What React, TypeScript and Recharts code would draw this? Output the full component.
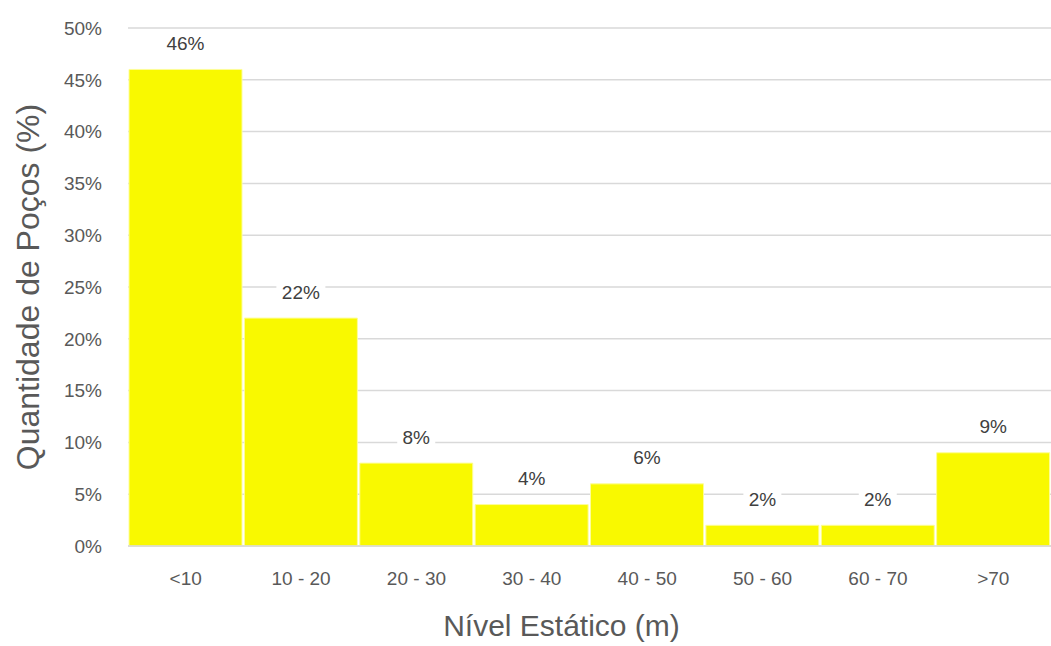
import React from "react";
import { BarChart, Bar, XAxis, YAxis, CartesianGrid, LabelList, Label } from "recharts";

const categories = ["<10", "10 - 20", "20 - 30", "30 - 40", "40 - 50", "50 - 60", "60 - 70", ">70"];
const percents = [46, 22, 8, 4, 6, 2, 2, 9];
const yTicks = [0, 5, 10, 15, 20, 25, 30, 35, 40, 45, 50];

const FONT = "'Liberation Sans', Arial, sans-serif";
const TEXT = "#595959";

const chartData = categories.map((c, i) => ({ name: c, value: percents[i] }));

function ValueLabel(props: any) {
  const { x, y, width, value } = props;
  const cx = x + width / 2;
  const cy = y - 26;
  const text = `${value}%`;
  const w = text.length * 11 + 16;
  return (
    <g>
      <rect x={cx - w / 2} y={cy - 12} width={w} height={24} fill="#ffffff" />
      <text
        x={cx}
        y={cy}
        textAnchor="middle"
        dominantBaseline="central"
        fontSize={19}
        fontFamily={FONT}
        fill="#404040"
      >
        {text}
      </text>
    </g>
  );
}

export default function App() {
  return (
    <div style={{ position: "absolute", left: 0, top: 0, background: "#fff" }}>
      <BarChart
        width={1051}
        height={646}
        data={chartData}
        margin={{ top: 28, right: 0, bottom: 70, left: 48 }}
        barCategoryGap={1}
      >
        <CartesianGrid vertical={false} stroke="#d9d9d9" strokeWidth={1.5} />
        <XAxis
          dataKey="name"
          axisLine={{ stroke: "#d9d9d9", strokeWidth: 1.5 }}
          tickLine={false}
          tickMargin={20}
          tick={{ fill: TEXT, fontSize: 19, fontFamily: FONT }}
          height={30}
        >
          <Label
            value="Nível Estático (m)"
            position="bottom"
            offset={39}
            dx={-28}
            style={{ fill: TEXT, fontSize: 30, fontFamily: FONT }}
          />
        </XAxis>
        <YAxis
          width={80}
          domain={[0, 50]}
          ticks={yTicks}
          interval={0}
          axisLine={false}
          tickLine={false}
          tickMargin={20}
          tickFormatter={(v: number) => `${v}%`}
          tick={{ fill: TEXT, fontSize: 19, fontFamily: FONT }}
        >
          <Label
            value="Quantidade de Poços (%)"
            angle={-90}
            position="left"
            offset={20}
            style={{ fill: TEXT, fontSize: 32, fontFamily: FONT, textAnchor: "middle" }}
          />
        </YAxis>
        <Bar dataKey="value" fill="#f9f900" stroke="#fdfd9a" strokeWidth={1} isAnimationActive={false}>
          <LabelList dataKey="value" content={<ValueLabel />} />
        </Bar>
      </BarChart>
    </div>
  );
}
